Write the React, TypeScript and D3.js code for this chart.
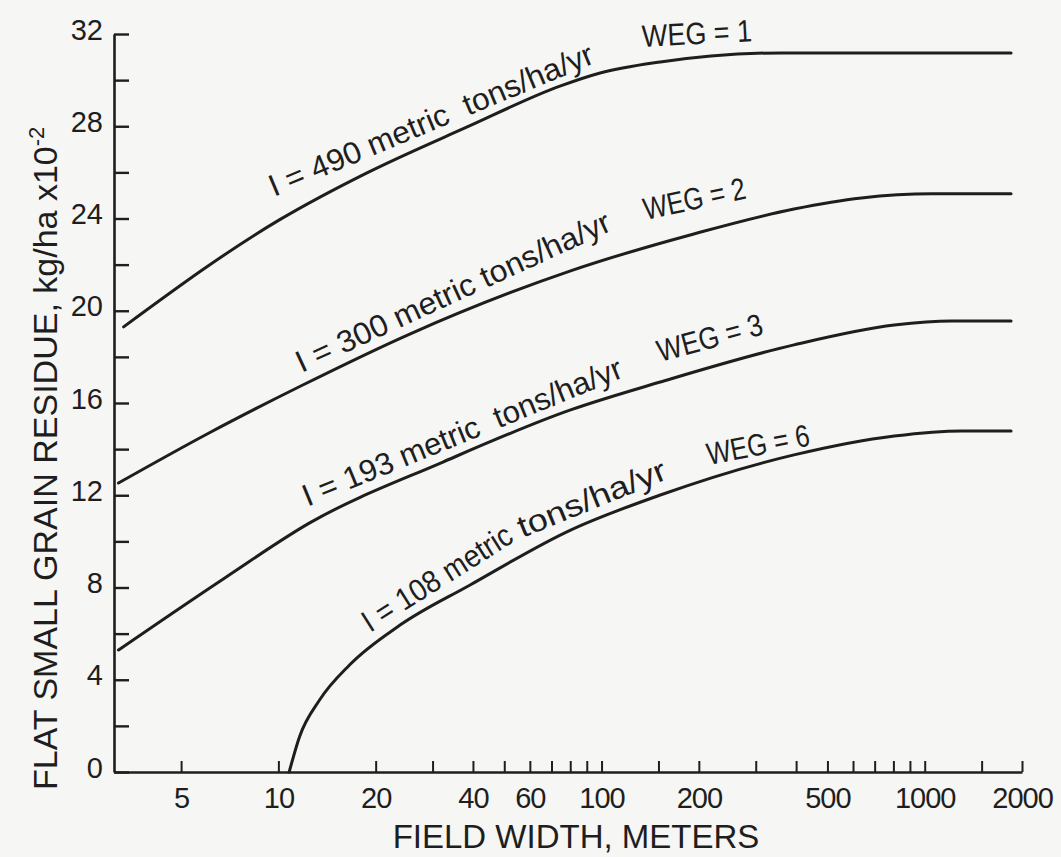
import { useEffect, useRef } from 'react'
import * as d3 from 'd3'

const W = 1061
const H = 857
const FONT = '"Liberation Sans", Arial, Helvetica, sans-serif'
const INK = '#1e1e1e'

// axis ticks
const yTickValues = [0, 2, 4, 6, 8, 10, 12, 14, 16, 18, 20, 22, 24, 26, 28, 30, 32]
const yLabelValues = [0, 4, 8, 12, 16, 20, 24, 28, 32]
const xTickValues = [5, 10, 20, 30, 40, 50, 60, 70, 80, 90, 100, 150, 200, 300, 400, 500, 600, 700, 800, 900, 1000, 1500, 2000]
const xLabelValues = [5, 10, 20, 40, 60, 100, 200, 500, 1000, 2000]

// curves (field width m, residue kg/ha x10^-2)
const weg1X = [3.32, 10.07, 18.8, 38.4, 74.7, 99, 152, 218, 360, 1850]
const weg1Y = [19.3, 23.94, 25.98, 27.97, 29.75, 30.31, 30.79, 31.05, 31.18, 31.18]

const weg2X = [3.2, 6.1, 11.9, 25.5, 80.2, 193, 394, 637, 1052, 1850]
const weg2Y = [12.53, 14.7, 16.78, 18.99, 21.73, 23.33, 24.41, 24.89, 25.07, 25.07]

const weg3X = [3.2, 6.9, 12.5, 32.3, 80.2, 152, 394, 805, 1210, 1850]
const weg3Y = [5.29, 8.46, 10.8, 13.44, 15.7, 16.91, 18.52, 19.38, 19.56, 19.56]

const weg6X = [10.8, 11.62, 13.41, 16.6, 23.8, 39.2, 80.2, 152, 394, 805, 1303, 1850]
const weg6Y = [0, 1.52, 3.12, 4.64, 6.37, 8.11, 10.49, 12.01, 13.75, 14.57, 14.79, 14.79]

const series = [
  { name: 'WEG=1', xs: weg1X, ys: weg1Y },
  { name: 'WEG=2', xs: weg2X, ys: weg2Y },
  { name: 'WEG=3', xs: weg3X, ys: weg3Y },
  { name: 'WEG=6', xs: weg6X, ys: weg6Y },
]

// curve annotations: anchor in data units, rotation, drawn length
const notes = [
  { text: 'I = 490 metric  tons/ha/yr', x: 9.7, y: 24.93, angle: -22.7, len: 349, size: 31 },
  { text: 'WEG = 1', x: 134, y: 31.44, angle: -3, len: 110, size: 31 },
  { text: 'I = 300 metric tons/ha/yr', x: 11.8, y: 17.3, angle: -24.7, len: 343, size: 31 },
  { text: 'WEG = 2', x: 137, y: 23.94, angle: -12, len: 104, size: 31 },
  { text: 'I = 193 metric  tons/ha/yr', x: 12.3, y: 11.5, angle: -22.3, len: 343, size: 31 },
  { text: 'WEG = 3', x: 152, y: 17.78, angle: -15, len: 108, size: 31 },
  { text: 'I = 108 metric', x: 19.2, y: 6.03, angle: -32.3, len: 172, size: 31 },
  { text: 'tons/ha/yr', x: 56.9, y: 10.15, angle: -22.1, len: 158, size: 31 },
  { text: 'WEG = 6', x: 215, y: 13.31, angle: -11, len: 104, size: 31 },
]

export default function App() {
  const svgRef = useRef<SVGSVGElement>(null)

  useEffect(() => {
    if (!svgRef.current) return
    const svg = d3.select(svgRef.current)
    svg.selectAll('*').remove()

    svg.append('rect').attr('width', W).attr('height', H).attr('fill', '#f6f6f4')

    const x = d3.scaleLog().domain([3.1, 2000]).range([114, 1022])
    const y = d3.scaleLinear().domain([0, 32]).range([772, 34])

    // x axis, ticks pointing up into the plot
    const xAxis = d3.axisBottom(x)
      .tickValues(xTickValues)
      .tickSizeInner(-11)
      .tickSizeOuter(0)
      .tickPadding(15)
      .tickFormat(d => (xLabelValues.includes(+d) ? String(d) : ''))
    svg.append('g').attr('transform', `translate(0,${y(0)})`).call(xAxis)
      .call(ax => {
        ax.select('.domain').attr('stroke', INK).attr('stroke-width', 2.6)
        ax.selectAll('.tick line').attr('stroke', INK).attr('stroke-width', 2)
        ax.selectAll('text').attr('fill', INK).attr('font-size', 29)
          .attr('font-family', FONT).attr('letter-spacing', -1)
      })

    // y axis, ticks pointing right
    const yAxis = d3.axisLeft(y)
      .tickValues(yTickValues)
      .tickSizeInner(-15)
      .tickSizeOuter(0)
      .tickPadding(11)
      .tickFormat(d => (yLabelValues.includes(+d) ? String(d) : ''))
    svg.append('g').attr('transform', `translate(${x.range()[0]},0)`).call(yAxis)
      .call(ax => {
        ax.select('.domain').attr('stroke', INK).attr('stroke-width', 2.6)
        ax.selectAll('.tick line').attr('stroke', INK).attr('stroke-width', 2.4)
        ax.selectAll('text').attr('fill', INK).attr('font-size', 29)
          .attr('font-family', FONT).attr('dy', 5)
      })

    // curves
    const line = d3.line<[number, number]>()
      .x(d => x(d[0]))
      .y(d => y(d[1]))
      .curve(d3.curveMonotoneX)

    series.forEach(s => {
      const pts = s.xs.map((v, i) => [v, s.ys[i]] as [number, number])
      svg.append('path')
        .attr('d', line(pts))
        .attr('fill', 'none')
        .attr('stroke', INK)
        .attr('stroke-width', 3)
        .attr('stroke-linecap', 'round')
    })

    // curve labels
    notes.forEach(n => {
      svg.append('text')
        .attr('transform', `translate(${x(n.x)},${y(n.y)}) rotate(${n.angle})`)
        .attr('font-family', FONT)
        .attr('font-size', n.size)
        .attr('fill', INK)
        .attr('textLength', n.len)
        .attr('lengthAdjust', 'spacingAndGlyphs')
        .style('white-space', 'pre')
        .text(n.text)
    })

    // axis titles
    svg.append('text')
      .attr('x', 576).attr('y', 848)
      .attr('text-anchor', 'middle')
      .attr('font-family', FONT).attr('font-size', 33).attr('fill', INK)
      .text('FIELD WIDTH, METERS')

    const yt = svg.append('text')
      .attr('transform', 'translate(57,790) rotate(-90)')
      .attr('text-anchor', 'start')
      .attr('font-family', FONT).attr('font-size', 34).attr('fill', INK)
    yt.append('tspan').text('FLAT SMALL GRAIN RESIDUE, kg/ha x10')
    yt.append('tspan').attr('dy', -13).attr('font-size', 22).text('-2')
  }, [])

  return (
    <div style={{ position: 'absolute', left: 0, top: 0 }}>
      <svg ref={svgRef} width={W} height={H} style={{ display: 'block' }} />
    </div>
  )
}
